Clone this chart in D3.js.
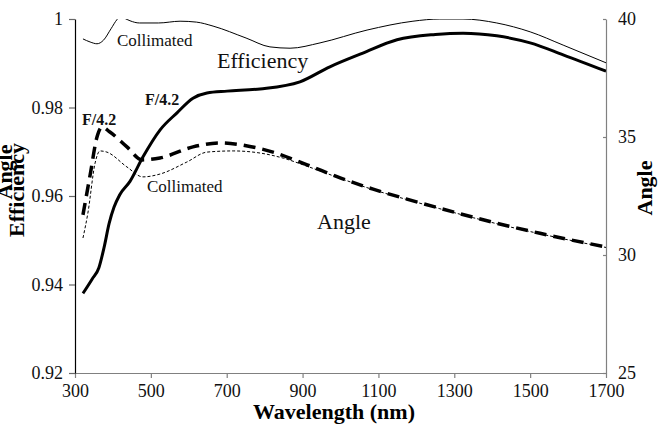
<!DOCTYPE html>
<html><head><meta charset="utf-8">
<script src="https://cdn.jsdelivr.net/npm/d3@7"></script>
<style>body{margin:0;background:#fff}svg{display:block}svg text{font-family:"Liberation Serif","Times New Roman",Times,"DejaVu Serif",serif !important}</style>
</head><body><svg id="c" width="664" height="437"></svg>
<script>
// Wavelength ticks
const xTicks = [300, 500, 700, 900, 1100, 1300, 1500, 1700];
const effTicks = [0.92, 0.94, 0.96, 0.98, 1];
const effTickLabels = ["0.92", "0.94", "0.96", "0.98", "1"];
const angleTicks = [25, 30, 35, 40];

// Efficiency, F/4.2 (thick solid)
const effF42Wl = [321, 345, 363, 377, 390, 403, 418, 445, 479, 524, 569, 611, 648, 701, 788, 893, 972, 1059, 1149, 1250, 1323, 1412, 1500, 1587, 1700];
const effF42   = [0.938, 0.9412, 0.9438, 0.9485, 0.9538, 0.9575, 0.9603, 0.9633, 0.9688, 0.9749, 0.9788, 0.9821, 0.9833, 0.9837, 0.9842, 0.9858, 0.9892, 0.9923, 0.9953, 0.9965, 0.9968, 0.9962, 0.9946, 0.9919, 0.9882];

// Efficiency, collimated (thin solid)
const effColWl = [321, 340, 358, 375, 395, 411, 420, 430, 445, 470, 520, 577, 620, 664, 751, 814, 867, 946, 1070, 1191, 1262, 1323, 1412, 1500, 1587, 1700];
const effCol   = [0.9955, 0.9948, 0.9944, 0.9952, 0.9978, 0.9999, 1.0006, 1.0002, 0.9996, 0.9991, 0.9991, 0.9995, 0.9993, 0.9984, 0.9957, 0.9937, 0.9934, 0.9946, 0.9975, 0.9995, 1.0, 1.0, 0.9991, 0.9971, 0.9941, 0.9901];

// Angle, F/4.2 (thick dashed)
const angF42Wl = [321, 340, 358, 371, 392, 437, 477, 524, 611, 682, 761, 822, 912, 999, 1086, 1175, 1262, 1350, 1439, 1526, 1613, 1700];
const angF42   = [31.7, 33.4, 35.0, 35.42, 35.21, 34.58, 34.03, 34.11, 34.58, 34.75, 34.6, 34.36, 33.82, 33.27, 32.79, 32.37, 31.98, 31.6, 31.24, 30.92, 30.62, 30.34];

// Angle, collimated (thin dashed)
const angColWl = [321, 334, 353, 366, 384, 437, 479, 524, 595, 648, 717, 788, 850, 912, 999, 1086, 1175, 1262, 1350, 1439, 1526, 1613, 1700];
const angCol   = [30.72, 31.78, 33.9, 34.41, 34.36, 33.73, 33.31, 33.43, 33.94, 34.36, 34.41, 34.32, 34.1, 33.76, 33.25, 32.77, 32.35, 31.96, 31.58, 31.22, 30.9, 30.6, 30.32];

const svg = d3.select("#c");
const L = 75, R = 606, T = 19, B = 373;
const x = d3.scaleLinear().domain([300, 1700]).range([L, R]);
const yE = d3.scaleLinear().domain([0.92, 1]).range([B, T]);
const yA = d3.scaleLinear().domain([25, 40]).range([B, T]);

svg.append("defs").append("clipPath").attr("id", "clip")
  .append("rect").attr("x", L).attr("y", T).attr("width", R - L).attr("height", B - T);

// Axes
const gx = svg.append("g").attr("transform", `translate(0,${B})`)
  .call(d3.axisBottom(x).tickValues(xTicks).tickSize(5).tickSizeOuter(0).tickPadding(6).tickFormat(d3.format("d")));
gx.attr("font-family", null);
gx.select(".domain").attr("stroke", "#808080").attr("stroke-width", 1.2);
gx.selectAll(".tick line").attr("stroke", "#808080").attr("stroke-width", 1.2);
gx.selectAll(".tick text").attr("font-size", 18).attr("fill", "#111");

const gl = svg.append("g").attr("transform", `translate(${L},0)`)
  .call(d3.axisLeft(yE).tickValues(effTicks).tickSize(6).tickSizeOuter(0).tickPadding(6)
    .tickFormat((d, i) => effTickLabels[i]));
gl.attr("font-family", null);
gl.select(".domain").attr("stroke", "#000").attr("stroke-width", 1.2);
gl.selectAll(".tick line").attr("stroke", "#666").attr("stroke-width", 1.2);
gl.selectAll(".tick text").attr("font-size", 18).attr("fill", "#111");

const gr = svg.append("g").attr("transform", `translate(${R},0)`)
  .call(d3.axisRight(yA).tickValues(angleTicks).tickSize(-3).tickSizeOuter(0).tickPadding(12).tickFormat(d3.format("d")));
gr.attr("font-family", null);
gr.select(".domain").attr("stroke", "#808080").attr("stroke-width", 1.2);
gr.selectAll(".tick line").attr("stroke", "#808080").attr("stroke-width", 1.2);
gr.selectAll(".tick text").attr("font-size", 18).attr("fill", "#111");

// Lines
const plot = svg.append("g").attr("clip-path", "url(#clip)");
function draw(wl, vals, yScale, width, dash) {
  const data = wl.map((w, i) => [w, vals[i]]);
  const line = d3.line().x(d => x(d[0])).y(d => yScale(d[1])).curve(d3.curveMonotoneX);
  plot.append("path").datum(data).attr("d", line).attr("fill", "none")
    .attr("stroke", "#000").attr("stroke-width", width)
    .attr("stroke-dasharray", dash || null).attr("stroke-linecap", "butt");
}
draw(effColWl, effCol, yE, 1);
draw(effF42Wl, effF42, yE, 3);
draw(angColWl, angCol, yA, 1, "3,2");
draw(angF42Wl, angF42, yA, 3.5, "12,7");

// Axis titles
svg.append("text").attr("x", 334).attr("y", 419).attr("text-anchor", "middle")
  .attr("font-size", 22).attr("font-weight", "bold").text("Wavelength (nm)");
svg.append("text").attr("transform", "translate(12,172) rotate(-90)").attr("text-anchor", "middle")
  .attr("font-size", 22).attr("font-weight", "bold").text("Angle");
svg.append("text").attr("transform", "translate(24,190) rotate(-90)").attr("text-anchor", "middle")
  .attr("font-size", 22).attr("font-weight", "bold").text("Efficiency");
svg.append("text").attr("transform", "translate(652,188) rotate(-90)").attr("text-anchor", "middle")
  .attr("font-size", 22).attr("font-weight", "bold").text("Angle");

// In-plot labels
const lab = (t, xx, yy, size, bold) => svg.append("text").attr("x", xx).attr("y", yy)
  .attr("font-size", size).attr("font-weight", bold ? "bold" : "normal").attr("fill", "#111").text(t);
lab("Collimated", 117, 46, 17);
lab("Efficiency", 217, 68, 22);
lab("F/4.2", 145, 105, 16, true);
lab("F/4.2", 82, 125, 16, true);
lab("Collimated", 147, 192, 17);
lab("Angle", 317, 229, 22);
</script></body></html>
